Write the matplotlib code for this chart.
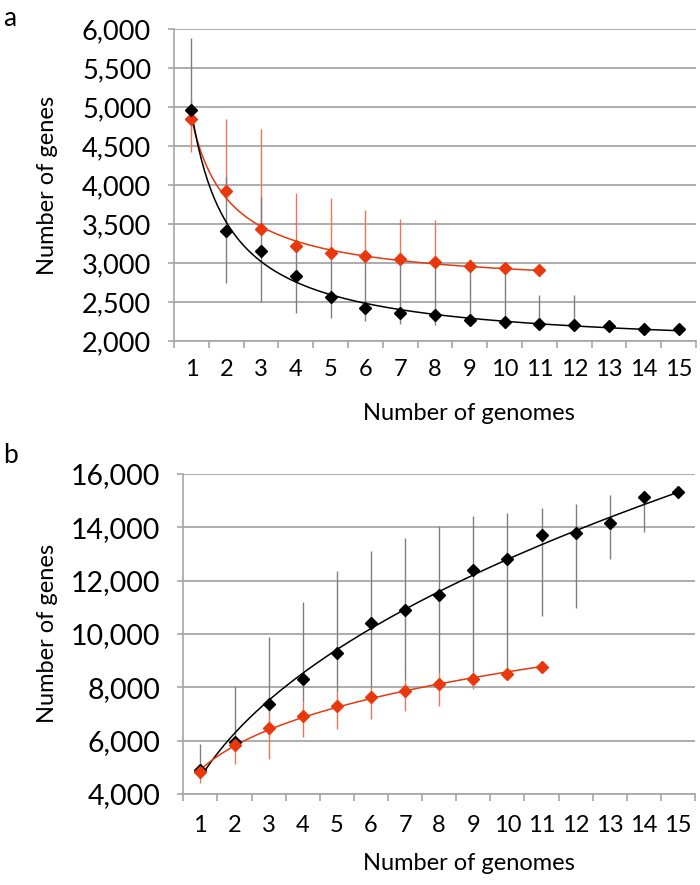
import numpy as np
import matplotlib
matplotlib.use("Agg")
import matplotlib.pyplot as plt
from matplotlib.ticker import FuncFormatter

plt.rcParams["font.family"] = ["Lato", "DejaVu Sans"]

GRID = "#a6a6a6"
RED = "#e8380d"
RED_BAR = "#ee7358"
GRAY_BAR = "#7f7f7f"

genomes_all = list(range(1, 16))
genomes_sub = list(range(1, 12))

# panel a: core genome
core_all = [4960, 3410, 3158, 2838, 2560, 2423, 2359, 2329, 2265, 2248, 2222, 2200, 2192, 2160, 2150]
core_all_high = [5880, 4107, 3850, 3218, 3132, 3087, 3051, 3009, 2962, 2940, 2585, 2594, 2192, 2160, 2150]
core_all_low = [4842, 2739, 2504, 2363, 2300, 2252, 2222, 2209, 2230, 2215, 2190, 2180, 2192, 2160, 2150]
core_sub = [4842, 3923, 3432, 3218, 3132, 3087, 3051, 3009, 2962, 2940, 2906]
core_sub_high = [5090, 4846, 4718, 3893, 3839, 3675, 3570, 3550, 3055, 2940, 2906]
core_sub_low = [4419, 3923, 3432, 3218, 3132, 3087, 3051, 3009, 2962, 2940, 2906]

# panel b: pan genome
pan_all = [4899, 5959, 7357, 8293, 9292, 10390, 10901, 11451, 12412, 12811, 13710, 13797, 14171, 15132, 15319]
pan_all_high = [5860, 8044, 9891, 11201, 12362, 13098, 13597, 14046, 14421, 14546, 14733, 14883, 15220, 15250, 15319]
pan_all_low = [4836, 5835, 7020, 7457, 7831, 8018, 8230, 8518, 8450, 8600, 10664, 10976, 12811, 13822, 15319]
pan_sub = [4836, 5835, 6459, 6921, 7295, 7619, 7856, 8118, 8318, 8505, 8742]
pan_sub_high = [5086, 5835, 7020, 7457, 7831, 8018, 8230, 8518, 8450, 8600, 8742]
pan_sub_low = [4400, 5123, 5310, 6146, 6421, 6796, 7120, 7307, 7919, 8400, 8742]


def fit_power_offset(x, y):
    """Least squares y = A*x**b + C, grid over b."""
    x = np.asarray(x, float)
    y = np.asarray(y, float)
    best = None
    for b in np.linspace(-3, -0.05, 600):
        M = np.column_stack([x ** b, np.ones_like(x)])
        coef, *_ = np.linalg.lstsq(M, y, rcond=None)
        res = np.sum((M @ coef - y) ** 2)
        if best is None or res < best[0]:
            best = (res, coef[0], b, coef[1])
    _, A, b, C = best
    return lambda t: A * t ** b + C


def fit_power(x, y):
    b, lna = np.polyfit(np.log(x), np.log(y), 1)
    return lambda t: np.exp(lna) * t ** b


def draw_series(ax, x, y, low, high, color, bar_color, model, zbase):
    x = np.asarray(x, float)
    y = np.asarray(y, float)
    yerr = [y - np.asarray(low), np.asarray(high) - y]
    ax.errorbar(x, y, yerr=yerr, fmt="none", ecolor=bar_color, elinewidth=1.0,
                capsize=0, zorder=zbase)
    xs = np.linspace(x[0], x[-1], 300)
    ax.plot(xs, model(xs), color=color, lw=1.1, zorder=zbase + 2)
    ax.plot(x, y, "D", ms=6.2, color=color, mec=color, zorder=zbase + 4)


def style_axes(ax, ylim, ystep, ylab_size, xpad):
    ax.set_xlim(0.5, 15.5)
    ax.set_ylim(*ylim)
    ax.set_yticks(np.arange(ylim[0], ylim[1] + 1, ystep))
    ax.yaxis.set_major_formatter(FuncFormatter(lambda v, p: f"{int(v):,}"))
    ax.set_xticks(np.arange(0.5, 16, 1))
    ax.set_xticks(genomes_all, minor=True)
    ax.set_xticklabels([str(g) for g in genomes_all], minor=True)
    ax.tick_params(axis="x", which="major", length=5, width=1.2, color=GRID,
                   labelbottom=False)
    ax.tick_params(axis="x", which="minor", length=0, pad=xpad, labelsize=17)
    ax.tick_params(axis="y", length=4.5, width=1.2, color=GRID,
                   labelsize=ylab_size, pad=12)
    ax.grid(True, axis="y", color=GRID, lw=1.3, zorder=0)
    ax.set_axisbelow(True)
    for side in ("top", "right"):
        ax.spines[side].set_visible(False)
    for side in ("left", "bottom"):
        ax.spines[side].set_color(GRID)
        ax.spines[side].set_linewidth(1.2)


fig = plt.figure(figsize=(7, 8.85), dpi=100)

# panel a
ax_a = fig.add_axes([0.2486, 0.6147, 0.7457, 0.3525])
draw_series(ax_a, genomes_sub, core_sub, core_sub_low, core_sub_high, RED, RED_BAR,
            fit_power_offset(genomes_sub, core_sub), 2)
draw_series(ax_a, genomes_all, core_all, core_all_low, core_all_high, "black", GRAY_BAR,
            fit_power_offset(genomes_all, core_all), 3)
style_axes(ax_a, (2000, 6000), 500, 19.5, 13)
ax_a.set_xlabel("Number of genomes", fontsize=17)
ax_a.xaxis.set_label_coords(0.565, -0.2)
ax_a.set_ylabel("Number of genes", fontsize=17)
ax_a.yaxis.set_label_coords(-0.222, 0.5)

# panel b
ax_b = fig.add_axes([0.2619, 0.1028, 0.731, 0.3619])
draw_series(ax_b, genomes_all, pan_all, pan_all_low, pan_all_high, "black", GRAY_BAR,
            fit_power(genomes_all, pan_all), 2)
draw_series(ax_b, genomes_sub, pan_sub, pan_sub_low, pan_sub_high, RED, RED_BAR,
            fit_power(genomes_sub, pan_sub), 3)
style_axes(ax_b, (4000, 16000), 2000, 20.5, 15)
ax_b.set_xlabel("Number of genomes", fontsize=17)
ax_b.xaxis.set_label_coords(0.558, -0.185)
ax_b.set_ylabel("Number of genes", fontsize=17)
ax_b.yaxis.set_label_coords(-0.245, 0.5)

fig.text(3 / 700, 1 - 6 / 885, "a", fontsize=19, va="top", ha="left")
fig.text(3 / 700, 1 - 443 / 885, "b", fontsize=19, va="top", ha="left")

fig.savefig("out.png", dpi=100)
